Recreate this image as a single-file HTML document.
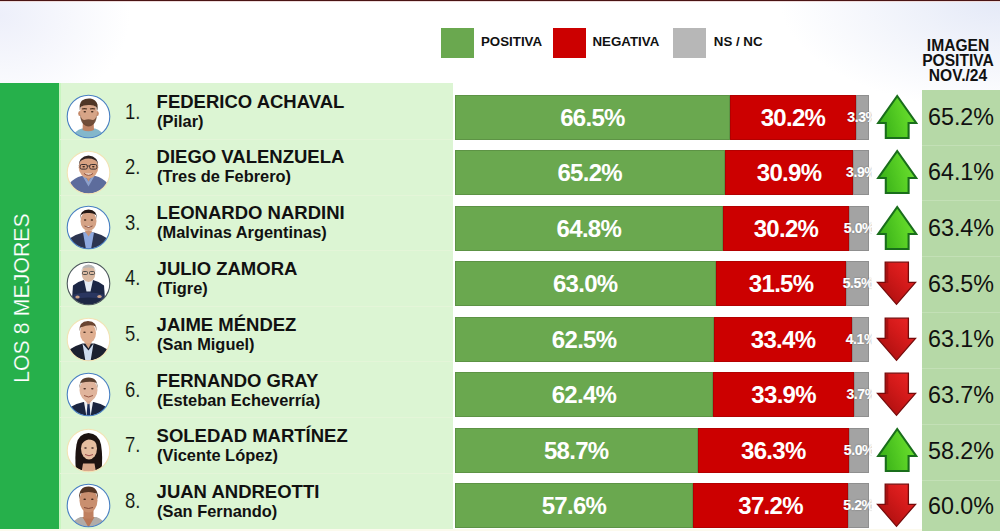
<!DOCTYPE html>
<html><head><meta charset="utf-8"><style>
*{margin:0;padding:0;box-sizing:border-box}
html,body{width:1000px;height:531px;overflow:hidden}
body{position:relative;font-family:"Liberation Sans",sans-serif;background:radial-gradient(ellipse 130px 100px at 0px 15px,#edeffa 0%,rgba(255,255,255,0) 100%),radial-gradient(ellipse 220px 110px at 1000px 0px,#e4e9f7 0%,rgba(255,255,255,0) 100%),#fff}
.a{position:absolute;white-space:nowrap}
.lg{font-weight:bold;font-size:13.3px;line-height:13.3px;color:#111}
.nm{font-weight:bold;font-size:18.5px;line-height:18.5px;color:#111}
.sb{font-weight:bold;font-size:16.4px;line-height:16.4px;color:#111}
.num{font-size:22px;line-height:22px;color:#111;transform:scaleX(0.84);transform-origin:0 0;-webkit-text-stroke:0.15px #dcf5d3}
.bl{font-weight:bold;font-size:24px;line-height:24px;color:#fff;letter-spacing:-0.7px;text-align:center}
.gl{font-weight:bold;font-size:14px;line-height:14px;color:#fff;letter-spacing:-0.4px;text-align:center;text-shadow:0 0 1.5px rgba(0,0,0,.45);-webkit-text-stroke:0.2px #fff}
.sg{box-shadow:inset 0 0 0 1px rgba(0,0,0,0.12)}
.rv{font-size:23.3px;line-height:23.3px;color:#111;text-align:center}
</style></head><body>

<div class="a" style="left:0;top:0;width:1000px;height:1px;background:#4a1414"></div>
<div class="a" style="left:0;top:1px;width:1000px;height:1px;background:#eedcdc"></div>
<div class="a" style="left:441px;top:28px;width:33px;height:30px;background:#6aa84f"></div>
<div class="a" style="left:552.5px;top:28px;width:33px;height:30px;background:#cc0000"></div>
<div class="a" style="left:673px;top:28px;width:33px;height:30px;background:#b7b7b7"></div>
<div class="a lg" style="left:481px;top:34.86px">POSITIVA</div>
<div class="a lg" style="left:592.5px;top:34.66px">NEGATIVA</div>
<div class="a lg" style="left:713.8px;top:35.26px">NS / NC</div>
<div class="a" style="left:917px;width:82px;top:38.20px;font-weight:bold;font-size:15.6px;line-height:15.6px;text-align:center;color:#111">IMAGEN</div>
<div class="a" style="left:917px;width:82px;top:52.90px;font-weight:bold;font-size:15.6px;line-height:15.6px;text-align:center;color:#111">POSITIVA</div>
<div class="a" style="left:917px;width:82px;top:67.60px;font-weight:bold;font-size:15.6px;line-height:15.6px;text-align:center;color:#111">NOV./24</div>
<div class="a" style="left:0;top:83px;width:59px;height:446px;background:#26b04b"></div>
<div class="a" style="left:0;top:529px;width:1000px;height:2px;background:#fcfaee"></div>
<div class="a" style="left:59px;top:83px;width:394px;height:446px;background:#dcf5d3"></div>
<div class="a" style="left:59px;top:83px;width:1.5px;height:446px;background:#c9f5c0"></div>
<div class="a" style="left:21.9px;top:297.9px;width:0;height:0"><div style="position:absolute;left:0;top:0;transform:translate(-50%,-50%) rotate(-90deg);font-size:21.2px;line-height:21.2px;letter-spacing:0.1px;color:#fff;white-space:nowrap;-webkit-text-stroke:0.2px #26b04b">LOS 8 MEJORES</div></div>
<div class="a" style="left:922px;top:89.5px;width:78px;height:441.5px;background:#b6d9a7"></div>
<div class="a" style="left:60px;top:139.20px;width:393px;height:1px;background:#e4f5d8"></div>
<div class="a" style="left:922px;top:144.60px;width:78px;height:1px;background:#c3e0b6"></div>
<svg class="a" style="left:65.50px;top:94.20px" width="45" height="45" viewBox="-0.5 -0.5 45 45"><defs><clipPath id="c0"><circle cx="22" cy="22" r="21.2"/></clipPath></defs><circle cx="22" cy="22" r="21.2" fill="#fff"/><g clip-path="url(#c0)"><path d="M5 44 Q8 36 15.5 34 L28.5 34 Q35.5 36 39 44 Z" fill="#84b7cb"/>
<path d="M16.5 26 L27 26 L27.5 35.5 Q22 38 16 35.5 Z" fill="#bf8466"/>
<ellipse cx="13.3" cy="19" rx="1.6" ry="2.6" fill="#c48868"/><ellipse cx="30.7" cy="19" rx="1.6" ry="2.6" fill="#c48868"/>
<ellipse cx="22" cy="18.5" rx="8.5" ry="11.8" fill="#d6a487"/>
<path d="M13.3 16 Q12.5 9 15.5 6 Q19 3.5 24 4 Q29.5 5 31 10 Q31.5 13.5 30.7 16.5 L29.8 12.5 Q27 10 22 10.5 Q16.5 10.5 14.2 12.5 Z" fill="#4f3626"/>
<path d="M13.6 20 Q14 29 19 31.2 Q22 32.6 25 31.2 Q30 29 30.4 20 Q29 25.5 26 25.5 Q22 23.8 18 25.5 Q15 25.5 13.6 20 Z" fill="#5e3e2c" opacity="0.85"/>
<path d="M15.5 14.6 Q18 13.6 20.5 14.6 M23.5 14.6 Q26 13.6 28.5 14.6" stroke="#4a2f20" stroke-width="1.1" fill="none"/>
<ellipse cx="18.3" cy="17.3" rx="1.3" ry="0.75" fill="#3a2518"/><ellipse cx="25.7" cy="17.3" rx="1.3" ry="0.75" fill="#3a2518"/></g><circle cx="22" cy="22" r="21.3" fill="none" stroke="#4a80c4" stroke-width="1.1"/></svg>
<div class="a num" style="left:125.3px;top:100.53px">1.</div>
<div class="a nm" style="left:156.6px;top:92.50px">FEDERICO ACHAVAL</div>
<div class="a sb" style="left:157.1px;top:112.50px">(Pilar)</div>
<div class="a sg" style="left:454.50px;top:94.60px;width:275.84px;height:45px;background:#6aa84f"></div>
<div class="a sg" style="left:730.34px;top:94.60px;width:125.27px;height:45px;background:#cc0000"></div>
<div class="a sg" style="left:855.61px;top:94.60px;width:13.69px;height:45px;background:#a3a3a3"></div>
<div class="a bl" style="left:454.50px;width:275.84px;top:105.57px">66.5%</div>
<div class="a bl" style="left:730.34px;width:125.27px;top:105.57px">30.2%</div>
<div class="a" style="left:830px;top:94.60px;width:42px;height:45px;overflow:hidden"><div class="a gl" style="left:5.61px;width:53.69px;top:15.37px">3.3%</div></div>
<svg style="position:absolute;left:872px;top:91.60px" width="50" height="50" viewBox="872 -3 50 50">
<defs><linearGradient id="gu" x1="0" y1="0.3" x2="1" y2="0"><stop offset="0" stop-color="#3db41a"/><stop offset="0.55" stop-color="#5bd226"/><stop offset="1" stop-color="#74e236"/></linearGradient></defs>
<path d="M897.2 1 L916.2 28 L908.6 28 L908.6 43 L885.8 43 L885.8 28 L878.2 28 Z" fill="url(#gu)" stroke="#196e1b" stroke-width="2.1" stroke-linejoin="miter"/>
</svg>
<div class="a rv" style="left:922px;width:78px;top:105.56px">65.2%</div>
<div class="a" style="left:60px;top:194.75px;width:393px;height:1px;background:#e4f5d8"></div>
<div class="a" style="left:922px;top:200.45px;width:78px;height:1px;background:#c3e0b6"></div>
<svg class="a" style="left:65.50px;top:149.80px" width="45" height="45" viewBox="-0.5 -0.5 45 45"><defs><clipPath id="c1"><circle cx="22" cy="22" r="21.2"/></clipPath></defs><circle cx="22" cy="22" r="21.2" fill="#fff"/><g clip-path="url(#c1)"><path d="M2 44 L3 33 Q8 27 15 25.5 L29 25.5 Q36 27 41 33 L42 44 Z" fill="#5d6c9c"/>
<path d="M16 25.5 L22 36 L28 25.5 L25.5 25.5 L22 31 L18.5 25.5 Z" fill="#8da0cc"/>
<path d="M18 24 L26 24 L22 31 Z" fill="#c99072"/>
<ellipse cx="22" cy="16.8" rx="9.8" ry="11" fill="#d7a282"/>
<path d="M12.2 16 Q12 6 22 5 Q32 6 31.8 16 L30.8 12 Q29 8.3 22 8 Q15 8.3 13.2 12 Z" fill="#2e2220"/>
<rect x="13.6" y="14" width="7.2" height="4.6" rx="1.6" fill="none" stroke="#3a3030" stroke-width="1"/>
<rect x="23.2" y="14" width="7.2" height="4.6" rx="1.6" fill="none" stroke="#3a3030" stroke-width="1"/>
<path d="M20.8 15.5 L23.2 15.5" stroke="#3a3030" stroke-width="0.8"/>
<path d="M17.5 23 Q22 26.5 26.5 23" stroke="#8a4a3a" stroke-width="1" fill="#f4e8e0"/>
<ellipse cx="17.2" cy="16.3" rx="1.3" ry="0.75" fill="#3a2518"/><ellipse cx="26.8" cy="16.3" rx="1.3" ry="0.75" fill="#3a2518"/></g><circle cx="22" cy="22" r="21.3" fill="none" stroke="#f3e3b5" stroke-width="1.1"/></svg>
<div class="a num" style="left:125.3px;top:156.15px">2.</div>
<div class="a nm" style="left:156.6px;top:148.30px">DIEGO VALENZUELA</div>
<div class="a sb" style="left:157.1px;top:168.30px">(Tres de Febrero)</div>
<div class="a sg" style="left:454.50px;top:150.10px;width:270.45px;height:45px;background:#6aa84f"></div>
<div class="a sg" style="left:724.95px;top:150.10px;width:128.17px;height:45px;background:#cc0000"></div>
<div class="a sg" style="left:853.12px;top:150.10px;width:16.18px;height:45px;background:#a3a3a3"></div>
<div class="a bl" style="left:454.50px;width:270.45px;top:161.12px">65.2%</div>
<div class="a bl" style="left:724.95px;width:128.17px;top:161.12px">30.9%</div>
<div class="a" style="left:830px;top:150.10px;width:42px;height:45px;overflow:hidden"><div class="a gl" style="left:3.12px;width:56.18px;top:15.37px">3.9%</div></div>
<svg style="position:absolute;left:872px;top:147.10px" width="50" height="50" viewBox="872 -3 50 50">
<defs><linearGradient id="gu" x1="0" y1="0.3" x2="1" y2="0"><stop offset="0" stop-color="#3db41a"/><stop offset="0.55" stop-color="#5bd226"/><stop offset="1" stop-color="#74e236"/></linearGradient></defs>
<path d="M897.2 1 L916.2 28 L908.6 28 L908.6 43 L885.8 43 L885.8 28 L878.2 28 Z" fill="url(#gu)" stroke="#196e1b" stroke-width="2.1" stroke-linejoin="miter"/>
</svg>
<div class="a rv" style="left:922px;width:78px;top:161.22px">64.1%</div>
<div class="a" style="left:60px;top:250.30px;width:393px;height:1px;background:#e4f5d8"></div>
<div class="a" style="left:922px;top:256.30px;width:78px;height:1px;background:#c3e0b6"></div>
<svg class="a" style="left:65.50px;top:205.40px" width="45" height="45" viewBox="-0.5 -0.5 45 45"><defs><clipPath id="c2"><circle cx="22" cy="22" r="21.2"/></clipPath></defs><circle cx="22" cy="22" r="21.2" fill="#fff"/><g clip-path="url(#c2)"><path d="M1 44 L3 33 Q10 28.5 16.5 27 L27.5 27 Q34 28.5 41 33 L43 44 Z" fill="#2c3550"/>
<path d="M16.5 27 L19.5 44 L24.5 44 L27.5 27 Z" fill="#8ea9df"/>
<path d="M18 25 L26 25 L22 31 Z" fill="#c89478"/>
<ellipse cx="22" cy="15.5" rx="8" ry="10" fill="#d4a285"/>
<path d="M13.5 14 Q13 4.5 22 4 Q31 4.5 30.5 14 L29.5 9.5 Q26 7 22 7.5 Q17 7 14.5 9.5 Z" fill="#231815"/>
<path d="M18 20.5 Q22 23.5 26 20.5" stroke="#7a4030" stroke-width="0.9" fill="#f0e0d8"/>
<ellipse cx="18.6" cy="14.5" rx="1.3" ry="0.75" fill="#3a2518"/><ellipse cx="25.4" cy="14.5" rx="1.3" ry="0.75" fill="#3a2518"/></g><circle cx="22" cy="22" r="21.3" fill="none" stroke="#4a80c4" stroke-width="1.1"/></svg>
<div class="a num" style="left:125.3px;top:211.77px">3.</div>
<div class="a nm" style="left:156.6px;top:204.10px">LEONARDO NARDINI</div>
<div class="a sb" style="left:157.1px;top:224.10px">(Malvinas Argentinas)</div>
<div class="a sg" style="left:454.50px;top:205.60px;width:268.79px;height:45px;background:#6aa84f"></div>
<div class="a sg" style="left:723.29px;top:205.60px;width:125.27px;height:45px;background:#cc0000"></div>
<div class="a sg" style="left:848.56px;top:205.60px;width:20.74px;height:45px;background:#a3a3a3"></div>
<div class="a bl" style="left:454.50px;width:268.79px;top:216.67px">64.8%</div>
<div class="a bl" style="left:723.29px;width:125.27px;top:216.67px">30.2%</div>
<div class="a" style="left:830px;top:205.60px;width:42px;height:45px;overflow:hidden"><div class="a gl" style="left:-1.44px;width:60.74px;top:15.37px">5.0%</div></div>
<svg style="position:absolute;left:872px;top:202.60px" width="50" height="50" viewBox="872 -3 50 50">
<defs><linearGradient id="gu" x1="0" y1="0.3" x2="1" y2="0"><stop offset="0" stop-color="#3db41a"/><stop offset="0.55" stop-color="#5bd226"/><stop offset="1" stop-color="#74e236"/></linearGradient></defs>
<path d="M897.2 1 L916.2 28 L908.6 28 L908.6 43 L885.8 43 L885.8 28 L878.2 28 Z" fill="url(#gu)" stroke="#196e1b" stroke-width="2.1" stroke-linejoin="miter"/>
</svg>
<div class="a rv" style="left:922px;width:78px;top:216.88px">63.4%</div>
<div class="a" style="left:60px;top:305.85px;width:393px;height:1px;background:#e4f5d8"></div>
<div class="a" style="left:922px;top:312.15px;width:78px;height:1px;background:#c3e0b6"></div>
<svg class="a" style="left:65.50px;top:261.00px" width="45" height="45" viewBox="-0.5 -0.5 45 45"><defs><clipPath id="c3"><circle cx="22" cy="22" r="21.2"/></clipPath></defs><circle cx="22" cy="22" r="21.2" fill="#fff"/><g clip-path="url(#c3)"><path d="M5 44 L6.5 24 Q11 20 17.5 18.5 L26.5 18.5 Q33 20 37.5 24 L39 44 Z" fill="#1d2745"/>
<path d="M17.5 18.5 L20 30 L24 30 L26.5 18.5 Z" fill="#e6ecf4"/>
<path d="M7 33 Q22 29 37 33 L37.5 38 Q22 34 6.5 38 Z" fill="#2a3660"/>
<ellipse cx="11" cy="35.5" rx="2.2" ry="1.6" fill="#caa088"/><ellipse cx="33" cy="35" rx="2.2" ry="1.6" fill="#caa088"/>
<ellipse cx="22" cy="12" rx="6.8" ry="8.5" fill="#d9b8a0"/>
<path d="M15 11 Q14.5 3.5 22 3 Q29.5 3.5 29 11 L28 7 Q22 5 16 7 Z" fill="#b5b5b5"/>
<rect x="16" y="10" width="5" height="3" rx="1" fill="none" stroke="#444" stroke-width="0.9"/>
<rect x="23" y="10" width="5" height="3" rx="1" fill="none" stroke="#444" stroke-width="0.9"/>
</g><circle cx="22" cy="22" r="21.3" fill="none" stroke="#4e585e" stroke-width="1.1"/></svg>
<div class="a num" style="left:125.3px;top:267.39px">4.</div>
<div class="a nm" style="left:156.6px;top:259.90px">JULIO ZAMORA</div>
<div class="a sb" style="left:157.1px;top:279.90px">(Tigre)</div>
<div class="a sg" style="left:454.50px;top:261.10px;width:261.32px;height:45px;background:#6aa84f"></div>
<div class="a sg" style="left:715.82px;top:261.10px;width:130.66px;height:45px;background:#cc0000"></div>
<div class="a sg" style="left:846.49px;top:261.10px;width:22.81px;height:45px;background:#a3a3a3"></div>
<div class="a bl" style="left:454.50px;width:261.32px;top:272.22px">63.0%</div>
<div class="a bl" style="left:715.82px;width:130.66px;top:272.22px">31.5%</div>
<div class="a" style="left:830px;top:261.10px;width:42px;height:45px;overflow:hidden"><div class="a gl" style="left:-3.51px;width:62.81px;top:15.37px">5.5%</div></div>
<svg style="position:absolute;left:872px;top:258.10px" width="50" height="50" viewBox="872 -3 50 50">
<defs><linearGradient id="gd" x1="0" y1="1" x2="1" y2="0"><stop offset="0" stop-color="#a00c0c"/><stop offset="0.6" stop-color="#d41a1a"/><stop offset="1" stop-color="#ee2626"/></linearGradient></defs>
<path d="M885.2 1.2 L908.4 1.2 L908.4 21.3 L915.5 21.3 L896.5 43.3 L877.5 21.3 L885.2 21.3 Z" fill="url(#gd)" stroke="#760a0a" stroke-width="1.3" stroke-linejoin="miter"/>
<path d="M885.8 1.8 L888.3 1.8 L888.3 22 L885.8 22 Z" fill="#8e0c0c" opacity="0.55"/>
</svg>
<div class="a rv" style="left:922px;width:78px;top:272.54px">63.5%</div>
<div class="a" style="left:60px;top:361.40px;width:393px;height:1px;background:#e4f5d8"></div>
<div class="a" style="left:922px;top:368.00px;width:78px;height:1px;background:#c3e0b6"></div>
<svg class="a" style="left:65.50px;top:316.60px" width="45" height="45" viewBox="-0.5 -0.5 45 45"><defs><clipPath id="c4"><circle cx="22" cy="22" r="21.2"/></clipPath></defs><circle cx="22" cy="22" r="21.2" fill="#fff"/><g clip-path="url(#c4)"><path d="M1 44 L3 32 Q9 28 16 26 L28 26 Q35 28 41 32 L43 44 Z" fill="#1b2030"/>
<path d="M16 26 L19 44 L24 44 L27 26 L22 33 Z" fill="#cddbef"/>
<path d="M17.5 24 L25.5 24 L22 31 Z" fill="#d4a284"/>
<ellipse cx="21.5" cy="15.5" rx="8" ry="10.3" fill="#dfae90"/>
<path d="M13 14 Q12 4 21.5 3.5 Q31 4 30 14 L29 9 Q24 6 14 10 Z" fill="#6a4532"/>
<ellipse cx="18" cy="14.8" rx="1.3" ry="0.75" fill="#4a3025"/><ellipse cx="25" cy="14.8" rx="1.3" ry="0.75" fill="#4a3025"/></g><circle cx="22" cy="22" r="21.3" fill="none" stroke="#f3e3b5" stroke-width="1.1"/></svg>
<div class="a num" style="left:125.3px;top:323.01px">5.</div>
<div class="a nm" style="left:156.6px;top:315.70px">JAIME MÉNDEZ</div>
<div class="a sb" style="left:157.1px;top:335.70px">(San Miguel)</div>
<div class="a sg" style="left:454.50px;top:316.60px;width:259.25px;height:45px;background:#6aa84f"></div>
<div class="a sg" style="left:713.75px;top:316.60px;width:138.54px;height:45px;background:#cc0000"></div>
<div class="a sg" style="left:852.29px;top:316.60px;width:17.01px;height:45px;background:#a3a3a3"></div>
<div class="a bl" style="left:454.50px;width:259.25px;top:327.77px">62.5%</div>
<div class="a bl" style="left:713.75px;width:138.54px;top:327.77px">33.4%</div>
<div class="a" style="left:830px;top:316.60px;width:42px;height:45px;overflow:hidden"><div class="a gl" style="left:2.29px;width:57.01px;top:15.37px">4.1%</div></div>
<svg style="position:absolute;left:872px;top:313.60px" width="50" height="50" viewBox="872 -3 50 50">
<defs><linearGradient id="gd" x1="0" y1="1" x2="1" y2="0"><stop offset="0" stop-color="#a00c0c"/><stop offset="0.6" stop-color="#d41a1a"/><stop offset="1" stop-color="#ee2626"/></linearGradient></defs>
<path d="M885.2 1.2 L908.4 1.2 L908.4 21.3 L915.5 21.3 L896.5 43.3 L877.5 21.3 L885.2 21.3 Z" fill="url(#gd)" stroke="#760a0a" stroke-width="1.3" stroke-linejoin="miter"/>
<path d="M885.8 1.8 L888.3 1.8 L888.3 22 L885.8 22 Z" fill="#8e0c0c" opacity="0.55"/>
</svg>
<div class="a rv" style="left:922px;width:78px;top:328.20px">63.1%</div>
<div class="a" style="left:60px;top:416.95px;width:393px;height:1px;background:#e4f5d8"></div>
<div class="a" style="left:922px;top:423.85px;width:78px;height:1px;background:#c3e0b6"></div>
<svg class="a" style="left:65.50px;top:372.20px" width="45" height="45" viewBox="-0.5 -0.5 45 45"><defs><clipPath id="c5"><circle cx="22" cy="22" r="21.2"/></clipPath></defs><circle cx="22" cy="22" r="21.2" fill="#fff"/><g clip-path="url(#c5)"><path d="M1 44 L3 35 Q10 30.5 17 29.5 L27 29.5 Q34 30.5 41 35 L43 44 Z" fill="#1b2540"/>
<path d="M17.5 29.5 L20 44 L24 44 L26.5 29.5 Z" fill="#eef0f4"/>
<path d="M21 31 L23 31 L24 44 L20 44 Z" fill="#1a2a58"/>
<path d="M17.5 27 L26.5 27 L22 32 Z" fill="#d8a890"/>
<ellipse cx="22" cy="17.5" rx="9" ry="11" fill="#e0b49c"/>
<path d="M13 16 Q12.5 5 22 5 Q31.5 5 31 16 L30 10.5 Q25 8 14 10.5 Z" fill="#5a4030"/>
<path d="M17.5 23 Q22 26 26.5 23" stroke="#8a4a3a" stroke-width="0.9" fill="none"/>
<ellipse cx="18.2" cy="16.3" rx="1.3" ry="0.75" fill="#4a3025"/><ellipse cx="25.8" cy="16.3" rx="1.3" ry="0.75" fill="#4a3025"/></g><circle cx="22" cy="22" r="21.3" fill="none" stroke="#4a80c4" stroke-width="1.1"/></svg>
<div class="a num" style="left:125.3px;top:378.63px">6.</div>
<div class="a nm" style="left:156.6px;top:371.50px">FERNANDO GRAY</div>
<div class="a sb" style="left:157.1px;top:391.50px">(Esteban Echeverría)</div>
<div class="a sg" style="left:454.50px;top:372.10px;width:258.84px;height:45px;background:#6aa84f"></div>
<div class="a sg" style="left:713.34px;top:372.10px;width:140.62px;height:45px;background:#cc0000"></div>
<div class="a sg" style="left:853.95px;top:372.10px;width:15.35px;height:45px;background:#a3a3a3"></div>
<div class="a bl" style="left:454.50px;width:258.84px;top:383.32px">62.4%</div>
<div class="a bl" style="left:713.34px;width:140.62px;top:383.32px">33.9%</div>
<div class="a" style="left:830px;top:372.10px;width:42px;height:45px;overflow:hidden"><div class="a gl" style="left:3.95px;width:55.35px;top:15.37px">3.7%</div></div>
<svg style="position:absolute;left:872px;top:369.10px" width="50" height="50" viewBox="872 -3 50 50">
<defs><linearGradient id="gd" x1="0" y1="1" x2="1" y2="0"><stop offset="0" stop-color="#a00c0c"/><stop offset="0.6" stop-color="#d41a1a"/><stop offset="1" stop-color="#ee2626"/></linearGradient></defs>
<path d="M885.2 1.2 L908.4 1.2 L908.4 21.3 L915.5 21.3 L896.5 43.3 L877.5 21.3 L885.2 21.3 Z" fill="url(#gd)" stroke="#760a0a" stroke-width="1.3" stroke-linejoin="miter"/>
<path d="M885.8 1.8 L888.3 1.8 L888.3 22 L885.8 22 Z" fill="#8e0c0c" opacity="0.55"/>
</svg>
<div class="a rv" style="left:922px;width:78px;top:383.86px">63.7%</div>
<div class="a" style="left:60px;top:472.50px;width:393px;height:1px;background:#e4f5d8"></div>
<div class="a" style="left:922px;top:479.70px;width:78px;height:1px;background:#c3e0b6"></div>
<svg class="a" style="left:65.50px;top:427.80px" width="45" height="45" viewBox="-0.5 -0.5 45 45"><defs><clipPath id="c6"><circle cx="22" cy="22" r="21.2"/></clipPath></defs><circle cx="22" cy="22" r="21.2" fill="#fff"/><g clip-path="url(#c6)"><path d="M9.5 42 Q8 28 10 16 Q12 5 22 4.5 Q32 5 34.5 16 Q36.5 28 35 42 Z" fill="#1d1311"/>
<path d="M15 44 L16.5 35 L28 35 L29.5 44 Z" fill="#d9a88a"/>
<ellipse cx="22.5" cy="20" rx="8" ry="11" fill="#e6bea0"/>
<path d="M14.5 17 Q16 8 23 8 Q28 9 30.5 15 Q27 11 22 11 Q17 12 14.5 17 Z" fill="#1d1311"/>
<path d="M18.5 26 Q22.5 28.5 26.5 26" stroke="#a05050" stroke-width="1" fill="none"/>
<ellipse cx="19" cy="19.5" rx="1.3" ry="0.75" fill="#3a2520"/><ellipse cx="26" cy="19.5" rx="1.3" ry="0.75" fill="#3a2520"/></g><circle cx="22" cy="22" r="21.3" fill="none" stroke="#f3e3b5" stroke-width="1.1"/></svg>
<div class="a num" style="left:125.3px;top:434.25px">7.</div>
<div class="a nm" style="left:156.6px;top:427.30px">SOLEDAD MARTÍNEZ</div>
<div class="a sb" style="left:157.1px;top:447.30px">(Vicente López)</div>
<div class="a sg" style="left:454.50px;top:427.60px;width:243.49px;height:45px;background:#6aa84f"></div>
<div class="a sg" style="left:697.99px;top:427.60px;width:150.57px;height:45px;background:#cc0000"></div>
<div class="a sg" style="left:848.56px;top:427.60px;width:20.74px;height:45px;background:#a3a3a3"></div>
<div class="a bl" style="left:454.50px;width:243.49px;top:438.87px">58.7%</div>
<div class="a bl" style="left:697.99px;width:150.57px;top:438.87px">36.3%</div>
<div class="a" style="left:830px;top:427.60px;width:42px;height:45px;overflow:hidden"><div class="a gl" style="left:-1.44px;width:60.74px;top:15.37px">5.0%</div></div>
<svg style="position:absolute;left:872px;top:424.60px" width="50" height="50" viewBox="872 -3 50 50">
<defs><linearGradient id="gu" x1="0" y1="0.3" x2="1" y2="0"><stop offset="0" stop-color="#3db41a"/><stop offset="0.55" stop-color="#5bd226"/><stop offset="1" stop-color="#74e236"/></linearGradient></defs>
<path d="M897.2 1 L916.2 28 L908.6 28 L908.6 43 L885.8 43 L885.8 28 L878.2 28 Z" fill="url(#gu)" stroke="#196e1b" stroke-width="2.1" stroke-linejoin="miter"/>
</svg>
<div class="a rv" style="left:922px;width:78px;top:439.52px">58.2%</div>
<svg class="a" style="left:65.50px;top:483.40px" width="45" height="45" viewBox="-0.5 -0.5 45 45"><defs><clipPath id="c7"><circle cx="22" cy="22" r="21.2"/></clipPath></defs><circle cx="22" cy="22" r="21.2" fill="#fff"/><g clip-path="url(#c7)"><path d="M3 44 Q7 36 14 33.5 L30 33.5 Q37 36 41 44 Z" fill="#b0aca8"/>
<path d="M16 33.5 L22 44 L28 33.5 Z" fill="#b87858"/>
<rect x="17" y="25" width="10" height="10" fill="#bf8060"/>
<ellipse cx="22" cy="17" rx="9" ry="12" fill="#c98f6f"/>
<path d="M12.5 16 Q12 3 22 3 Q32 3 31.5 16 L30 10 Q22 7 14 10 Z" fill="#533524"/>
<path d="M17.5 24 Q22 26 26.5 24" stroke="#7a4030" stroke-width="0.9" fill="none"/>
<ellipse cx="18.2" cy="15.8" rx="1.3" ry="0.75" fill="#3a2518"/><ellipse cx="25.8" cy="15.8" rx="1.3" ry="0.75" fill="#3a2518"/></g><circle cx="22" cy="22" r="21.3" fill="none" stroke="#4a80c4" stroke-width="1.1"/></svg>
<div class="a num" style="left:125.3px;top:489.87px">8.</div>
<div class="a nm" style="left:156.6px;top:483.10px">JUAN ANDREOTTI</div>
<div class="a sb" style="left:157.1px;top:503.10px">(San Fernando)</div>
<div class="a sg" style="left:454.50px;top:483.10px;width:238.92px;height:45px;background:#6aa84f"></div>
<div class="a sg" style="left:693.42px;top:483.10px;width:154.31px;height:45px;background:#cc0000"></div>
<div class="a sg" style="left:847.73px;top:483.10px;width:21.57px;height:45px;background:#a3a3a3"></div>
<div class="a bl" style="left:454.50px;width:238.92px;top:494.42px">57.6%</div>
<div class="a bl" style="left:693.42px;width:154.31px;top:494.42px">37.2%</div>
<div class="a" style="left:830px;top:483.10px;width:42px;height:45px;overflow:hidden"><div class="a gl" style="left:-2.27px;width:61.57px;top:15.37px">5.2%</div></div>
<svg style="position:absolute;left:872px;top:480.10px" width="50" height="50" viewBox="872 -3 50 50">
<defs><linearGradient id="gd" x1="0" y1="1" x2="1" y2="0"><stop offset="0" stop-color="#a00c0c"/><stop offset="0.6" stop-color="#d41a1a"/><stop offset="1" stop-color="#ee2626"/></linearGradient></defs>
<path d="M885.2 1.2 L908.4 1.2 L908.4 21.3 L915.5 21.3 L896.5 43.3 L877.5 21.3 L885.2 21.3 Z" fill="url(#gd)" stroke="#760a0a" stroke-width="1.3" stroke-linejoin="miter"/>
<path d="M885.8 1.8 L888.3 1.8 L888.3 22 L885.8 22 Z" fill="#8e0c0c" opacity="0.55"/>
</svg>
<div class="a rv" style="left:922px;width:78px;top:495.18px">60.0%</div>
</body></html>
